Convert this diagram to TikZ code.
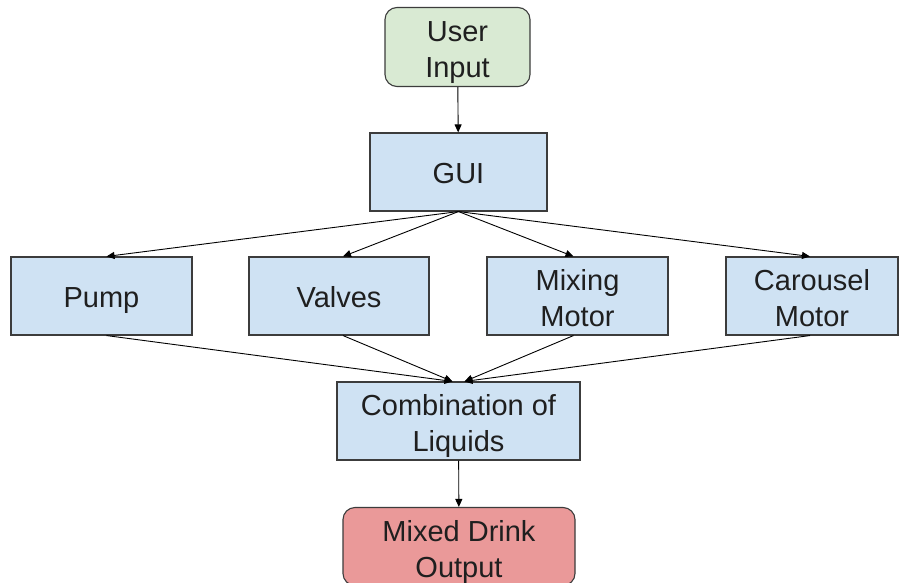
\documentclass[tikz,border=0pt]{standalone}
\usepackage{fontspec}
\setmainfont{Liberation Sans}
\usetikzlibrary{arrows.meta}
\definecolor{boxblue}{HTML}{CFE2F3}
\definecolor{boxgreen}{HTML}{D9EAD3}
\definecolor{boxred}{HTML}{EA9999}
\definecolor{edge}{HTML}{3C3C3C}
\definecolor{ink}{HTML}{1F1F1F}
\tikzset{
  block/.style={draw=edge, line width=1.1pt, fill=boxblue, align=center,
    inner sep=0pt, minimum height=78pt, text=ink,
    font=\fontsize{29}{36}\selectfont},
  oneline/.style={text height=22.5pt, text depth=0pt},
  twoline/.style={text height=61pt, text depth=0pt},
  roundblock/.style={block, rounded corners=12pt},
  link/.style={draw=black, line width=0.9pt,
    -{Triangle[length=8pt,width=7pt]}}
}
\begin{document}
\begin{tikzpicture}[x=1pt,y=-1pt]
  \useasboundingbox (0,0) rectangle (899,583);
  \clip (0,0) rectangle (899,583);
  \fill[white] (0,0) rectangle (899,583);

  % source and interface
  \node[roundblock, twoline, fill=boxgreen, minimum width=145pt, minimum height=79pt] (user) at (457.5,47) {User\\Input};
  \node[block, oneline, minimum width=177pt] (gui) at (458.5,172) {GUI};

  % actuators
  \node[block, oneline, minimum width=181pt] (pump) at (101.5,296) {Pump};
  \node[block, oneline, minimum width=180pt] (valves) at (339,296) {Valves};
  \node[block, twoline, minimum width=181pt] (mixing) at (577.5,296) {Mixing\\Motor};
  \node[block, twoline, minimum width=172pt] (carousel) at (812,296) {Carousel\\Motor};

  % result
  \node[block, twoline, minimum width=243pt] (comb) at (458.5,421) {Combination of\\Liquids};
  \node[roundblock, twoline, fill=boxred, minimum width=232pt] (drink) at (459,546.5) {Mixed Drink\\Output};

  \draw[link] (user) -- (gui);
  \draw[link] (gui.south) -- ([xshift=5pt]pump.north);
  \draw[link] (gui.south) -- ([xshift=4pt]valves.north);
  \draw[link] (gui.south) -- ([xshift=-4pt]mixing.north);
  \draw[link] (gui.south) -- ([xshift=-2pt]carousel.north);

  \draw[link] ([xshift=5pt]pump.south) -- ([xshift=-6pt]comb.north);
  \draw[link] ([xshift=4pt]valves.south) -- ([xshift=-6pt]comb.north);
  \draw[link] ([xshift=-4pt]mixing.south) -- ([xshift=6pt]comb.north);
  \draw[link] ([xshift=-2pt]carousel.south) -- ([xshift=6pt]comb.north);

  \draw[link] (comb) -- (drink);
\end{tikzpicture}
\end{document}
